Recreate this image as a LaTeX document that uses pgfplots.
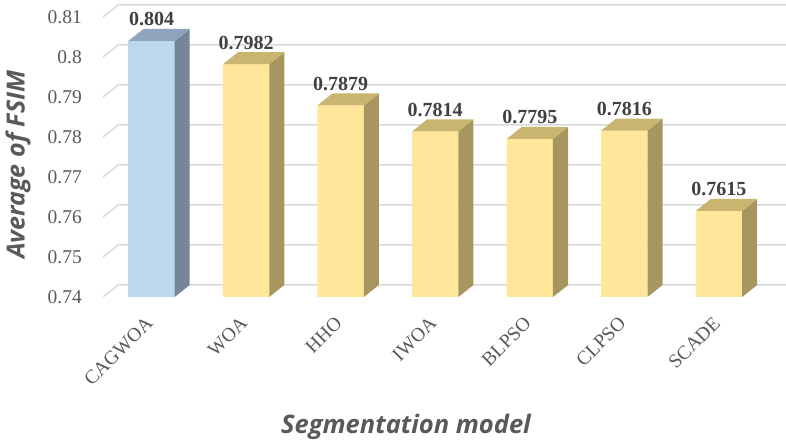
\documentclass[border=0pt]{standalone}
\usepackage{fontspec}
\setmainfont{Liberation Serif}
\newfontfamily\titlefont{Open Sans}
\usepackage{pgfplots}
\pgfplotsset{compat=1.18}
\definecolor{gridc}{RGB}{217,217,217}
\definecolor{bfront}{RGB}{189,215,238}
\definecolor{bside}{RGB}{118,134,152}
\definecolor{btop}{RGB}{141,164,188}
\definecolor{yfront}{RGB}{255,230,153}
\definecolor{yside}{RGB}{168,150,96}
\definecolor{ytop}{RGB}{201,180,112}
\definecolor{tickc}{RGB}{89,89,89}
\definecolor{labc}{RGB}{64,64,64}
\begin{document}
\begin{tikzpicture}
\begin{axis}[
  at={(103pt,144pt)}, anchor=south west,
  scale only axis, width=683pt, height=294pt,
  xmin=-0.513, xmax=6.709, ymin=0.74, ymax=0.8135,
  axis line style={draw=none}, major tick length=0pt,
  scaled y ticks=false,
  /pgf/number format/assume math mode=true,
  xtick={0,1,2,3,4,5,6},
  xticklabels={CAGWOA,WOA,HHO,IWOA,BLPSO,CLPSO,SCADE},
  ytick={0.74,0.75,0.76,0.77,0.78,0.79,0.8,0.81},
  yticklabel style={anchor=east, inner sep=0pt, xshift=-21pt, font=\fontsize{19.5}{22}\selectfont, text=tickc},
  xticklabel style={yshift=-23pt, xshift=-2pt, rotate=45, anchor=east, inner sep=0pt, font=\fontsize{19.5}{22}\selectfont, text=tickc},
  xlabel={Segmentation model},
  xlabel style={at={(axis description cs:0.4436,-0.4626)}, anchor=base, font=\fontsize{25.5}{30}\selectfont\titlefont\bfseries\itshape, text=tickc},
  ylabel={Average of FSIM},
  ylabel style={at={(axis description cs:-0.1245,0.45)}, anchor=center, font=\fontsize{25}{30}\selectfont\titlefont\bfseries\itshape, text=tickc},
  every node near coord/.append style={anchor=base, yshift=15pt, font=\fontsize{20}{24}\selectfont\bfseries, text=labc},
]
% grid lines (back wall + left diagonal)
\addplot[gridc, line width=1.5pt] coordinates {(-0.513,0.74) (-0.354,0.743) (6.709,0.743)};
\addplot[gridc, line width=1.5pt] coordinates {(-0.513,0.75) (-0.354,0.753) (6.709,0.753)};
\addplot[gridc, line width=1.5pt] coordinates {(-0.513,0.76) (-0.354,0.763) (6.709,0.763)};
\addplot[gridc, line width=1.5pt] coordinates {(-0.513,0.77) (-0.354,0.773) (6.709,0.773)};
\addplot[gridc, line width=1.5pt] coordinates {(-0.513,0.78) (-0.354,0.783) (6.709,0.783)};
\addplot[gridc, line width=1.5pt] coordinates {(-0.513,0.79) (-0.354,0.793) (6.709,0.793)};
\addplot[gridc, line width=1.5pt] coordinates {(-0.513,0.80) (-0.354,0.803) (6.709,0.803)};
\addplot[gridc, line width=1.5pt] coordinates {(-0.513,0.81) (-0.354,0.813) (6.709,0.813)};
% front faces
\addplot[ybar, bar width=0.49, bar shift=0pt, fill=bfront, draw=none,
  nodes near coords={\pgfmathprintnumber[fixed,precision=4,assume math mode=true]{\pgfplotspointmeta}}]
  coordinates {(0,0.804)};
\addplot[ybar, bar width=0.49, bar shift=0pt, fill=yfront, draw=none,
  nodes near coords={\pgfmathprintnumber[fixed,precision=4,assume math mode=true]{\pgfplotspointmeta}}]
  coordinates {(1,0.7982) (2,0.7879) (3,0.7814) (4,0.7795) (5,0.7816) (6,0.7615)};
% side and top faces
\addplot[fill=bside, draw=none] coordinates {(0.245,0.74) (0.404,0.743) (0.404,0.807) (0.245,0.804)} -- cycle;
\addplot[fill=btop, draw=none] coordinates {(-0.245,0.804) (0.245,0.804) (0.404,0.807) (-0.086,0.807)} -- cycle;
\addplot[fill=yside, draw=none] coordinates {(1.245,0.74) (1.404,0.743) (1.404,0.8012) (1.245,0.7982)} -- cycle;
\addplot[fill=ytop, draw=none] coordinates {(0.755,0.7982) (1.245,0.7982) (1.404,0.8012) (0.914,0.8012)} -- cycle;
\addplot[fill=yside, draw=none] coordinates {(2.245,0.74) (2.404,0.743) (2.404,0.7909) (2.245,0.7879)} -- cycle;
\addplot[fill=ytop, draw=none] coordinates {(1.755,0.7879) (2.245,0.7879) (2.404,0.7909) (1.914,0.7909)} -- cycle;
\addplot[fill=yside, draw=none] coordinates {(3.245,0.74) (3.404,0.743) (3.404,0.7844) (3.245,0.7814)} -- cycle;
\addplot[fill=ytop, draw=none] coordinates {(2.755,0.7814) (3.245,0.7814) (3.404,0.7844) (2.914,0.7844)} -- cycle;
\addplot[fill=yside, draw=none] coordinates {(4.245,0.74) (4.404,0.743) (4.404,0.7825) (4.245,0.7795)} -- cycle;
\addplot[fill=ytop, draw=none] coordinates {(3.755,0.7795) (4.245,0.7795) (4.404,0.7825) (3.914,0.7825)} -- cycle;
\addplot[fill=yside, draw=none] coordinates {(5.245,0.74) (5.404,0.743) (5.404,0.7846) (5.245,0.7816)} -- cycle;
\addplot[fill=ytop, draw=none] coordinates {(4.755,0.7816) (5.245,0.7816) (5.404,0.7846) (4.914,0.7846)} -- cycle;
\addplot[fill=yside, draw=none] coordinates {(6.245,0.74) (6.404,0.743) (6.404,0.7645) (6.245,0.7615)} -- cycle;
\addplot[fill=ytop, draw=none] coordinates {(5.755,0.7615) (6.245,0.7615) (6.404,0.7645) (5.914,0.7645)} -- cycle;
\end{axis}
\pgfresetboundingbox
\useasboundingbox (0,0) rectangle (786pt,441pt);
\end{tikzpicture}
\end{document}
